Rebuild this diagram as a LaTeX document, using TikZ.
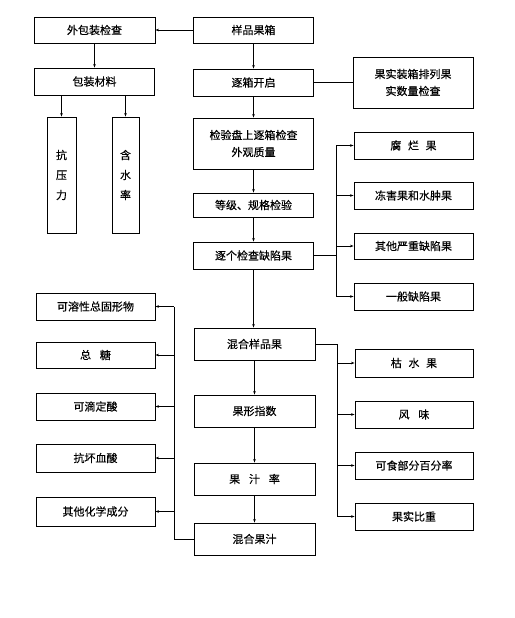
\documentclass[tikz,border=0pt]{standalone}
\usepackage{fontspec}
\newfontfamily\cjk[FakeBold=0.3]{Noto Sans CJK SC}
\usetikzlibrary{arrows.meta}
\begin{document}
\begin{tikzpicture}[x=1pt,y=-1pt,
  box/.style={draw,line width=0.95pt,inner sep=0pt,align=center,
    font=\cjk\fontsize{11}{17}\selectfont},
  conn/.style={line width=0.85pt},
  arr/.style={line width=0.85pt,-{Stealth[length=3.5pt,width=2.6pt]}}]
\useasboundingbox (0,0) rectangle (514,618);
% left top
\node[box,minimum width=121pt,minimum height=26pt] (wbz) at (94.5,30) {外包装检查};
\node[box,minimum width=120pt,minimum height=26pt] (ypgx) at (253.5,30) {样品果箱};
\node[box,minimum width=120pt,minimum height=27pt] (bzcl) at (94.5,81.5) {包装材料};
\node[box,minimum width=120pt,minimum height=27pt] (zxkq) at (253.5,82.5) {逐箱开启};
\node[box,minimum width=29pt,minimum height=116pt,font=\cjk\fontsize{11}{20}\selectfont] (kyl) at (61.5,175) {抗\\压\\力};
\node[box,minimum width=27pt,minimum height=116pt,font=\cjk\fontsize{11}{20}\selectfont] (hsl) at (125.5,175) {含\\水\\率};
\node[box,minimum width=120pt,minimum height=51pt] (jyp) at (253.5,143.5) {检验盘上逐箱检查\\外观质量};
\node[box,minimum width=120pt,minimum height=24pt] (djgg) at (253.5,205) {等级、规格检验};
\node[box,minimum width=120pt,minimum height=27pt] (zgjc) at (253.5,255.5) {逐个检查缺陷果};
\node[box,minimum width=120pt,minimum height=51pt] (gszx) at (413,82.5) {果实装箱排列果\\实数量检查};
% right upper group
\node[box,minimum width=119pt,minimum height=27pt] (flg) at (413.5,145.5) {腐\hspace{0.6em}烂\hspace{0.6em}果};
\node[box,minimum width=119pt,minimum height=27pt] (dhg) at (413.5,195.5) {冻害果和水肿果};
\node[box,minimum width=119pt,minimum height=26pt] (qtyz) at (413.5,246) {其他严重缺陷果};
\node[box,minimum width=119pt,minimum height=27pt] (ybqx) at (413.5,296.5) {一般缺陷果};
% left lower group
\node[box,minimum width=119pt,minimum height=27pt] (kxg) at (95.5,306.5) {可溶性总固形物};
\node[box,minimum width=119pt,minimum height=26pt] (zt) at (95.5,355) {总\hspace{0.8em}糖};
\node[box,minimum width=119pt,minimum height=27pt] (kdds) at (95.5,406.5) {可滴定酸};
\node[box,minimum width=119pt,minimum height=28pt] (khxs) at (95.5,458) {抗坏血酸};
\node[box,minimum width=119pt,minimum height=29pt] (qthx) at (95.5,511.5) {其他化学成分};
% middle lower
\node[box,minimum width=121pt,minimum height=32pt] (hhypg) at (254.5,344) {混合样品果};
\node[box,minimum width=121pt,minimum height=32pt] (gxzs) at (254.5,411) {果形指数};
\node[box,minimum width=121pt,minimum height=32pt] (gzl) at (254.5,479) {果\hspace{0.8em}汁\hspace{0.8em}率};
\node[box,minimum width=121pt,minimum height=32pt] (hhgz) at (254.5,539) {混合果汁};
% right lower group
\node[box,minimum width=118pt,minimum height=28pt] (ksg) at (414,363) {枯\hspace{0.6em}水\hspace{0.6em}果};
\node[box,minimum width=118pt,minimum height=27pt] (fw) at (414,414.5) {风\hspace{0.8em}味};
\node[box,minimum width=118pt,minimum height=27pt] (ksbf) at (414,465.5) {可食部分百分率};
\node[box,minimum width=118pt,minimum height=27pt] (gsbz) at (414,516.5) {果实比重};
% bus coordinates
\coordinate (b1) at (336,0);
\coordinate (b2) at (174,0);
\coordinate (b3) at (337,0);
% top connectors
\draw[arr] (ypgx) -- (wbz);
\draw[arr] (wbz) -- (bzcl);
\draw[arr] (bzcl.south -| kyl.north) -- (kyl.north);
\draw[arr] (bzcl.south -| hsl.north) -- (hsl.north);
\draw[conn] (zxkq) -- (gszx);
% trunk
\draw[arr] (ypgx) -- (zxkq);
\draw[arr] (zxkq) -- (jyp);
\draw[arr] (jyp) -- (djgg);
\draw[arr] (djgg) -- (zgjc);
\draw[arr] (zgjc.south) -- (zgjc.south |- hhypg.north);
\draw[arr] (hhypg) -- (gxzs);
\draw[arr] (gxzs) -- (gzl);
\draw[arr] (gzl) -- (hhgz);
% right upper bus
\draw[conn] (zgjc) -- (zgjc -| b1);
\draw[conn] (flg -| b1) -- (ybqx -| b1);
\draw[arr] (flg -| b1) -- (flg);
\draw[arr] (dhg -| b1) -- (dhg);
\draw[arr] (qtyz -| b1) -- (qtyz);
\draw[arr] (ybqx -| b1) -- (ybqx);
% left lower bus
\draw[conn] (hhgz) -- (hhgz -| b2) -- (kxg -| b2);
\draw[arr] (kxg -| b2) -- (kxg);
\draw[arr] (zt -| b2) -- (zt);
\draw[arr] (kdds -| b2) -- (kdds);
\draw[arr] (khxs -| b2) -- (khxs);
\draw[arr] (qthx -| b2) -- (qthx);
% right lower bus
\draw[conn] (hhypg.east) -- (hhypg.east -| b3) -- (gsbz -| b3);
\draw[arr] (ksg -| b3) -- (ksg);
\draw[arr] (fw -| b3) -- (fw);
\draw[arr] (ksbf -| b3) -- (ksbf);
\draw[arr] (gsbz -| b3) -- (gsbz);
\end{tikzpicture}
\end{document}
